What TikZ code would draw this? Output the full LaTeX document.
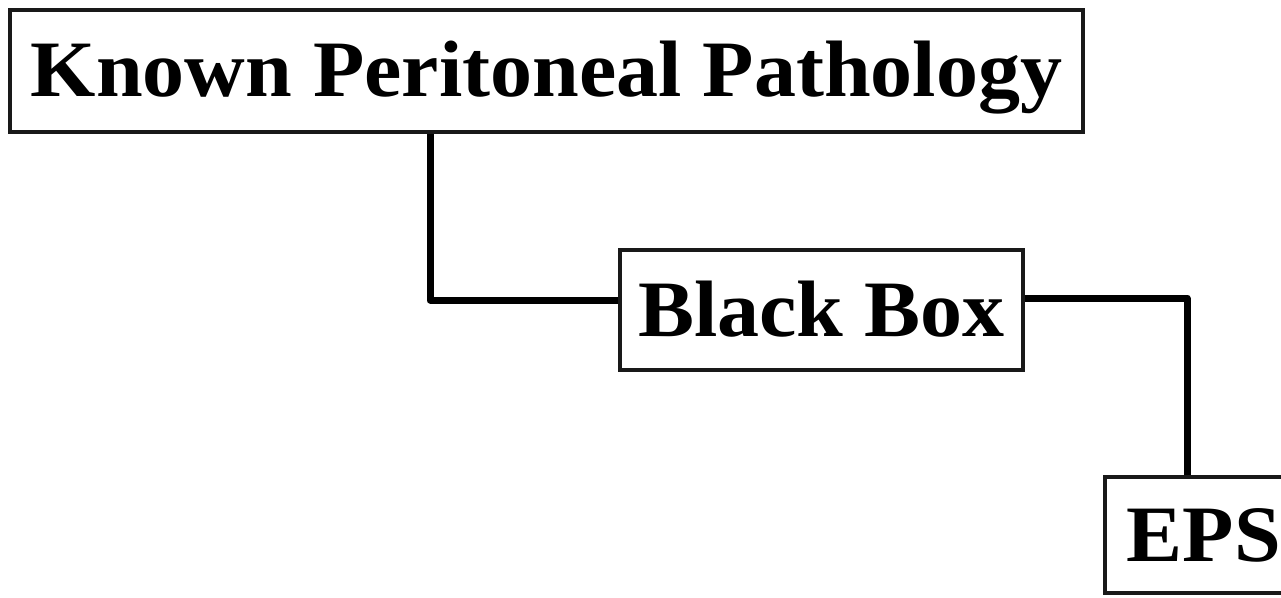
\documentclass[tikz,border=0pt]{standalone}
\usepackage{fontspec}
\setmainfont{Liberation Serif}[FakeStretch=1.05]
\begin{document}
\begin{tikzpicture}[x=1pt,y=-1pt,
  box/.style={draw=black!90,line width=3.5pt,fill=white,inner sep=0pt,
    font=\fontsize{80}{80}\selectfont\bfseries,text height=53pt,text depth=0pt},
  conn/.style={draw=black,line width=7pt,line join=round}]
  \useasboundingbox (0,0) rectangle (1281,597);
  \clip (0,0) rectangle (1281,597);
  \fill[white] (0,0) rectangle (1281,597);
  % boxes
  \node[box,minimum width=1073pt,minimum height=122pt,text height=50pt] (kpp) at (546.5,71) {Known Peritoneal Pathology};
  \node[box,minimum width=403pt,minimum height=120pt] (bb) at (821.5,310) {Black Box};
  \node[box,anchor=west,inner xsep=22pt,text width=190pt,align=left,minimum height=116pt] (eps) at (1103,535) {EPS};
  % connectors
  \draw[conn] ([xshift=-116.5pt]kpp.south) |- ([yshift=10pt]bb.west);
  \draw[conn] ([yshift=12pt]bb.east) -| ([xshift=84pt]eps.north west);
\end{tikzpicture}
\end{document}
